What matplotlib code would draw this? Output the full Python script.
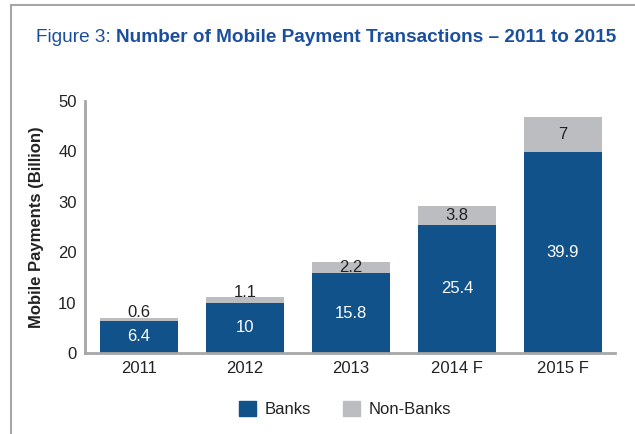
import matplotlib

matplotlib.use("Agg")
import matplotlib.pyplot as plt
from matplotlib.patches import Patch

years = ["2011", "2012", "2013", "2014 F", "2015 F"]
banks = [6.4, 10, 15.8, 25.4, 39.9]
non_banks = [0.6, 1.1, 2.2, 3.8, 7]
bank_labels = ["6.4", "10", "15.8", "25.4", "39.9"]
non_bank_labels = ["0.6", "1.1", "2.2", "3.8", "7"]
y_ticks = [0, 10, 20, 30, 40, 50]

BLUE = "#12528a"
GREY = "#bcbdc1"
TITLE_BLUE = "#1b4f9e"
TEXT = "#222222"

plt.rcParams["font.family"] = ["Liberation Sans", "DejaVu Sans"]

fig = plt.figure(figsize=(6.35, 4.34), dpi=100)
fig.patch.set_facecolor("white")

# frame lines (top and left only)
fig.add_artist(plt.Line2D([11 / 635, 1], [1 - 5 / 434] * 2, color="#a6a6a6", lw=1.5))
fig.add_artist(plt.Line2D([11 / 635] * 2, [0, 1 - 5 / 434], color="#a6a6a6", lw=1.5))

# title: light prefix + bold rest, fitted to span x=36..621 px
t1 = fig.text(36 / 635, 1 - 37 / 434, "Figure 3: ", color=TITLE_BLUE, fontsize=15,
              va="center", ha="left")
t2 = fig.text(0, 1 - 37 / 434, "Number of Mobile Payment Transactions \u2013 2011 to 2015",
              color=TITLE_BLUE, fontsize=15, fontweight="bold", va="center", ha="left")
fig.canvas.draw()
r = fig.canvas.get_renderer()
w = t1.get_window_extent(r).width + t2.get_window_extent(r).width
size = 15 * 585 / w
t1.set_fontsize(size)
t2.set_fontsize(size)
fig.canvas.draw()
t2.set_x((36 + t1.get_window_extent(r).width) / 635)

ax = fig.add_axes([85 / 635, 1 - 353 / 434, 530 / 635, 252 / 434])
x = range(len(years))
ax.bar(x, banks, width=0.73, color=BLUE, zorder=2)
ax.bar(x, non_banks, width=0.73, bottom=banks, color=GREY, zorder=2)

for i, (b, nb) in enumerate(zip(banks, non_banks)):
    ax.text(i, b / 2, bank_labels[i], color="white", ha="center", va="center", fontsize=12)
    ny = b + nb / 2 if nb >= 2 else b + nb + 1
    ax.text(i, ny, non_bank_labels[i], color=TEXT, ha="center", va="center", fontsize=12)

ax.set_xlim(-0.51, 4.49)
ax.set_ylim(0, 50)
ax.set_yticks(y_ticks)
ax.set_xticks(list(x))
ax.set_xticklabels(years)
ax.tick_params(length=0, labelsize=12, colors=TEXT, pad=6)
for s in ["top", "right"]:
    ax.spines[s].set_visible(False)
for s in ["left", "bottom"]:
    ax.spines[s].set_color("#a6a6a6")
    ax.spines[s].set_linewidth(2)
ax.set_ylabel("Mobile Payments (Billion)", fontsize=12, fontweight="bold", color=TEXT, labelpad=10)

handles = [Patch(color=BLUE, label="Banks"), Patch(color=GREY, label="Non-Banks")]
fig.legend(handles=handles, loc="center", bbox_to_anchor=(345 / 635, 1 - 409 / 434), ncol=2,
           frameon=False, fontsize=12, handlelength=1.0, handleheight=1.0,
           columnspacing=1.95, handletextpad=0.5, labelcolor=TEXT)

fig.savefig("out.png", dpi=100)
